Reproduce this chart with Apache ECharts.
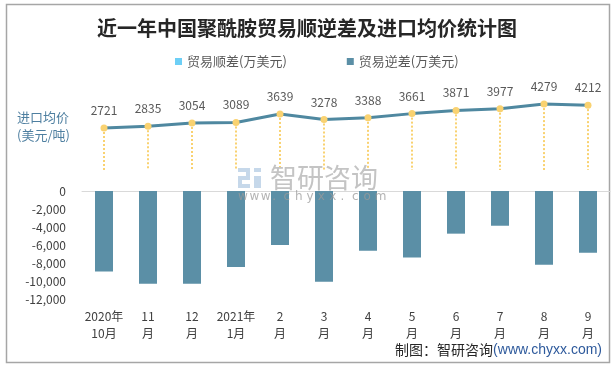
<!DOCTYPE html>
<html>
<head>
<meta charset="utf-8">
<script src="https://cdn.jsdelivr.net/npm/echarts@6/dist/echarts.min.js"></script>
<style>
html,body{margin:0;padding:0;background:#fff;}
#c{width:614px;height:369px;}
</style>
</head>
<body>
<div id="c"></div>
<script>
const categories = ['2020年\n10月','11\n月','12\n月','2021年\n1月','2\n月','3\n月','4\n月','5\n月','6\n月','7\n月','8\n月','9\n月'];
const importPrice = [2721,2835,3054,3089,3639,3278,3388,3661,3871,3977,4279,4212];
const tradeDeficit = [-8950,-10300,-10300,-8440,-6000,-10080,-6630,-7400,-4740,-3860,-8190,-6860];
const tradeSurplus = [null,null,null,null,null,null,null,null,null,null,null,null];

const FONT = '"Noto Sans CJK SC","Noto Sans",sans-serif';
const chart = echarts.init(document.getElementById('c'), null, {renderer:'canvas'});

const dropLines = importPrice.map((v,i)=>[{coord:[i,v]},{coord:[i,0]}]);

const wmChars = 'www.chyxx.com'.split('').map((ch,i)=>({
  type:'text', left:238 + i*11.4, top:191, z:50,
  style:{text:ch,fontSize:12,fill:'#9a9a9a',opacity:0.75,fontFamily:'"DejaVu Sans",sans-serif'}
}));

chart.setOption({
  backgroundColor:'#ffffff',
  animation:false,
  textStyle:{fontFamily:FONT},
  title:{
    text:'近一年中国聚酰胺贸易顺逆差及进口均价统计图',
    left:'center', top:13,
    textStyle:{fontSize:20,fontWeight:'bold',color:'#262626',fontFamily:FONT}
  },
  legend:{
    data:['贸易顺差(万美元)','贸易逆差(万美元)'],
    left:170, top:50,
    itemWidth:7, itemHeight:7, itemGap:60,
    icon:'rect',
    textStyle:{fontSize:13,color:'#595959',fontFamily:FONT}
  },
  grid:[
    {left:82,right:4,top:93,height:77},
    {left:82,right:4,top:191,height:108}
  ],
  xAxis:[
    {type:'category',gridIndex:0,data:categories,show:false,boundaryGap:true},
    {type:'category',gridIndex:1,data:categories,position:'bottom',boundaryGap:true,
     axisLine:{show:false},axisTick:{show:false},
     axisLabel:{interval:0,fontSize:12,color:'#404040',lineHeight:17,margin:9,fontFamily:FONT}},
    {type:'category',gridIndex:1,data:categories,position:'top',boundaryGap:true,
     axisLine:{show:true,lineStyle:{color:'#d9d9d9',width:1}},axisTick:{show:false},axisLabel:{show:false}}
  ],
  yAxis:[
    {type:'value',gridIndex:0,min:0,max:5000,show:false,splitLine:{show:false}},
    {type:'value',gridIndex:1,min:-12000,max:0,interval:2000,
     axisLine:{show:false},axisTick:{show:false},splitLine:{show:false},
     axisLabel:{fontSize:12,color:'#404040',margin:16,fontFamily:FONT,
       formatter:function(v){return v.toLocaleString('en-US');}}}
  ],
  series:[
    {name:'贸易顺差(万美元)',type:'bar',xAxisIndex:1,yAxisIndex:1,stack:'trade',
     data:tradeSurplus,barWidth:18,itemStyle:{color:'#6DCFF6'}},
    {name:'贸易逆差(万美元)',type:'bar',xAxisIndex:1,yAxisIndex:1,stack:'trade',
     data:tradeDeficit,barWidth:18,itemStyle:{color:'#5B8FA6'}},
    {name:'进口均价',type:'line',xAxisIndex:0,yAxisIndex:0,data:importPrice,
     symbol:'circle',symbolSize:7,z:5,
     lineStyle:{color:'#4F88A0',width:3},
     itemStyle:{color:'#F9D271'},
     label:{show:true,position:'top',distance:8,fontSize:12,color:'#595959',fontFamily:FONT},
     markLine:{silent:true,symbol:['none','none'],label:{show:false},
       lineStyle:{color:'#F9D271',type:[2,2],width:2},
       data:dropLines},
     legendHoverLink:false}
  ],
  graphic:[
    {type:'rect',shape:{x:6.5,y:4.5,width:603,height:358},style:{fill:'none',stroke:'#a6a6a6',lineWidth:1.5},silent:true,z:-1},
    {type:'text',left:17,top:111,style:{text:'进口均价',fontSize:13,fill:'#4E7FA0',fontFamily:FONT}},
    {type:'text',left:17,top:129,style:{text:'(美元/吨)',fontSize:13,fill:'#4E7FA0',fontFamily:FONT}},
    // watermark
    {type:'rect',shape:{x:238,y:168,width:12,height:4},style:{fill:'#c6d8ea'},z:50},
    {type:'rect',shape:{x:246,y:168,width:4,height:12},style:{fill:'#c6d8ea'},z:50},
    {type:'rect',shape:{x:238,y:176,width:12,height:4},style:{fill:'#c6d8ea'},z:50},
    {type:'rect',shape:{x:238,y:176,width:4,height:12},style:{fill:'#c6d8ea'},z:50},
    {type:'rect',shape:{x:238,y:184,width:12,height:4},style:{fill:'#c6d8ea'},z:50},
    {type:'rect',shape:{x:254,y:168,width:7,height:4},style:{fill:'#c6d8ea'},z:50},
    {type:'rect',shape:{x:254,y:176,width:7,height:12},style:{fill:'#c6d8ea'},z:50},
    {type:'text',left:270,top:164,style:{text:'智研咨询',fontSize:27,fill:'#c4c4c4',fontFamily:FONT},z:50}
  ].concat(wmChars).concat([
    // footer
    {type:'text',right:12,top:343,style:{
      rich:{a:{fontSize:14,fill:'#262626',fontFamily:FONT},b:{fontSize:14,fill:'#2E5A9C',fontFamily:'"Liberation Sans",Arial,sans-serif'}},
      text:'{a|制图：智研咨询}{b|(www.chyxx.com)}'}}
  ])
});
</script>
</body>
</html>
